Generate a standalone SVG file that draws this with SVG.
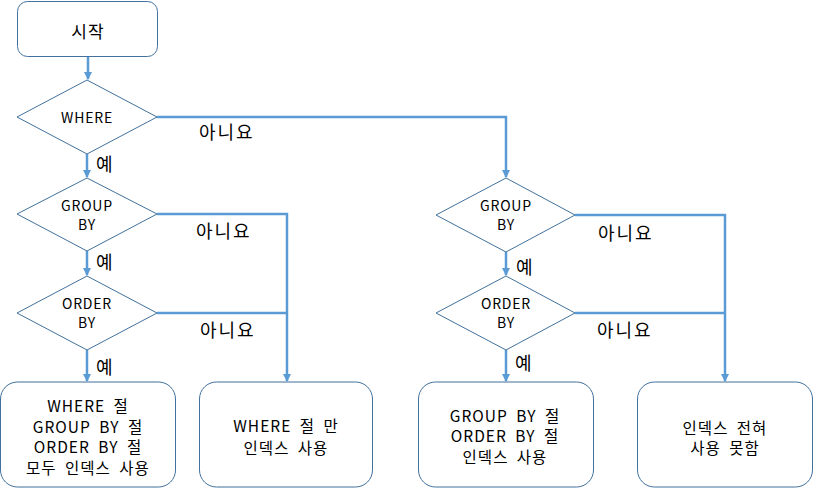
<svg xmlns="http://www.w3.org/2000/svg" width="820" height="489" viewBox="0 0 820 489">
<defs>
<marker id="ah" markerWidth="8" markerHeight="8" refX="7" refY="4" orient="auto" markerUnits="userSpaceOnUse">
<path d="M0,0 L8,4 L0,8 Z" fill="#5B9BD5"/>
</marker>
<style>
.node{fill:#fff;stroke:#41719C;stroke-width:1}
.conn{fill:none;stroke:#5B9BD5;stroke-width:2.5}
.t{font-family:"Noto Sans CJK KR","Liberation Sans",sans-serif;fill:#000;text-anchor:middle;dominant-baseline:central}
.d{font-size:14px;letter-spacing:0.8px}
.b{font-size:15.5px;letter-spacing:1px;word-spacing:4px}
.s{font-size:17px;letter-spacing:1px}
.l{font-size:18px;letter-spacing:2px;text-anchor:start}
</style>
</defs>
<rect width="820" height="489" fill="#fff"/>
<g id="connectors">
<path class="conn" d="M88,56 V79" marker-end="url(#ah)"/>
<path class="conn" d="M157,117 H506 V177" marker-end="url(#ah)"/>
<path class="conn" d="M87,154 V177" marker-end="url(#ah)"/>
<path class="conn" d="M157,214 H287 V381" marker-end="url(#ah)"/>
<path class="conn" d="M157,313 H287"/>
<path class="conn" d="M87,251 V275" marker-end="url(#ah)"/>
<path class="conn" d="M87,350 V381" marker-end="url(#ah)"/>
<path class="conn" d="M575,215 H725 V381" marker-end="url(#ah)"/>
<path class="conn" d="M575,313 H725"/>
<path class="conn" d="M506,252 V275" marker-end="url(#ah)"/>
<path class="conn" d="M506,350 V381" marker-end="url(#ah)"/>
<text class="t l" x="199" y="131">아니요</text>
<text class="t l" x="196" y="230">아니요</text>
<text class="t l" x="200" y="329">아니요</text>
<text class="t l" x="598" y="232">아니요</text>
<text class="t l" x="597" y="329">아니요</text>
<text class="t l" x="96" y="163">예</text>
<text class="t l" x="96" y="261">예</text>
<text class="t l" x="96" y="366">예</text>
<text class="t l" x="516" y="266">예</text>
<text class="t l" x="515" y="362">예</text>
</g>
<g id="start">
<rect class="node" x="17.5" y="1.5" width="140" height="55" rx="10"/>
<text class="t s" x="88" y="30">시작</text>
</g>
<g id="where">
<polygon class="node" points="87,80 157,117 87,154 17,117"/>
<text class="t d" x="87" y="117">WHERE</text>
</g>
<g id="groupby1">
<polygon class="node" points="87,178 157,214 87,251 17,214"/>
<text class="t d" x="87" y="205">GROUP</text>
<text class="t d" x="87" y="224">BY</text>
</g>
<g id="orderby1">
<polygon class="node" points="87,276 157,313 87,350 17,313"/>
<text class="t d" x="87" y="303">ORDER</text>
<text class="t d" x="87" y="322">BY</text>
</g>
<g id="groupby2">
<polygon class="node" points="506,178 575,215 506,252 436,215"/>
<text class="t d" x="506" y="205">GROUP</text>
<text class="t d" x="506" y="224">BY</text>
</g>
<g id="orderby2">
<polygon class="node" points="506,276 575,313 506,350 436,313"/>
<text class="t d" x="506" y="303">ORDER</text>
<text class="t d" x="506" y="322">BY</text>
</g>
<g id="box1">
<rect class="node" x="0.5" y="382" width="175" height="105" rx="17"/>
<text class="t b" x="88" y="405">WHERE 절</text>
<text class="t b" x="88" y="426">GROUP BY 절</text>
<text class="t b" x="88" y="446">ORDER BY 절</text>
<text class="t b" x="88" y="467">모두 인덱스 사용</text>
</g>
<g id="box2">
<rect class="node" x="199.5" y="382" width="173" height="105" rx="17"/>
<text class="t b" x="286" y="425">WHERE 절 만</text>
<text class="t b" x="286" y="447">인덱스 사용</text>
</g>
<g id="box3">
<rect class="node" x="418.5" y="382" width="175" height="105" rx="17"/>
<text class="t b" x="505" y="415">GROUP BY 절</text>
<text class="t b" x="505" y="435">ORDER BY 절</text>
<text class="t b" x="505" y="456">인덱스 사용</text>
</g>
<g id="box4">
<rect class="node" x="637.5" y="382" width="175" height="105" rx="17"/>
<text class="t b" x="725" y="427">인덱스 전혀</text>
<text class="t b" x="725" y="447">사용 못함</text>
</g>
</svg>
